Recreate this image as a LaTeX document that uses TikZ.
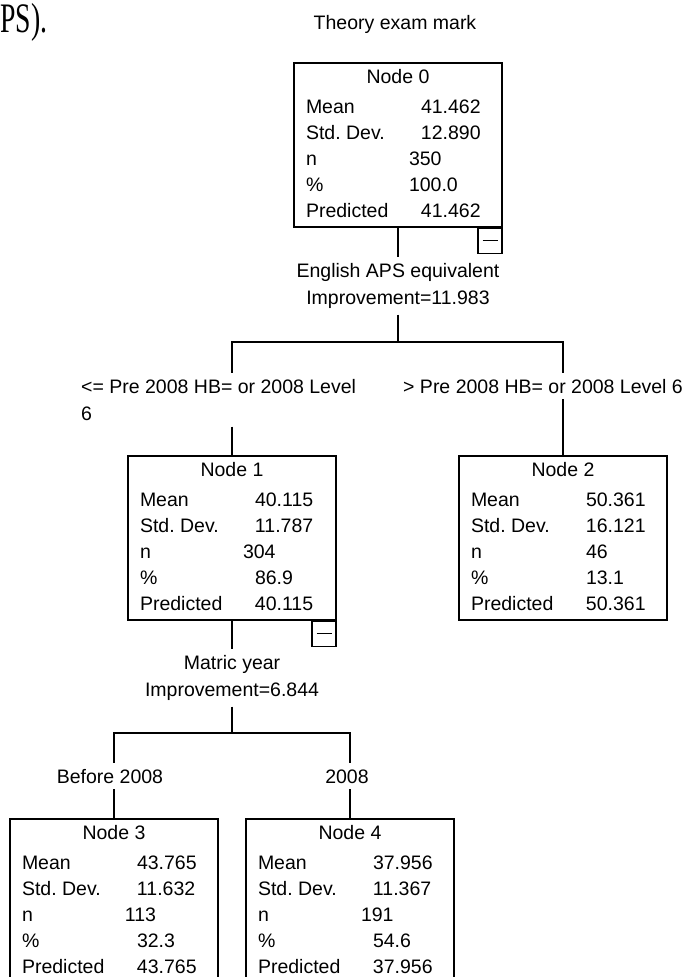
\documentclass[tikz,border=0pt]{standalone}
\usepackage{fontspec}
\setmainfont{Liberation Sans}
\newfontfamily\bodyserif{Liberation Serif}
\usepackage{array}
\usetikzlibrary{positioning,calc}
\frenchspacing

\newcommand{\statfont}{\fontsize{19.5}{26}\selectfont}
\newcommand{\val}[1]{\hspace*{12pt}#1}
\newcommand{\stattable}[6]{%
  \begin{tabular}{@{\hspace{12pt}}p{103pt}@{}p{93pt}@{}}
    \multicolumn{2}{c}{#1}\\[4pt]
    Mean & \val{#2}\\
    Std. Dev. & \val{#3}\\
    n & #4\\
    \% & #5\\
    Predicted & \val{#6}
  \end{tabular}}

\tikzset{
  treebox/.style={draw, line width=1.2pt, minimum width=208pt, minimum height=164pt, inner sep=0pt, font=\statfont},
  collapse/.style={draw, line width=1.2pt, minimum width=24pt, minimum height=25pt, inner sep=0pt, anchor=north east},
  cond/.style={inner xsep=0pt, inner ysep=6pt, font=\fontsize{19.5}{27}\selectfont},
  link/.style={line width=1.2pt},
}

\begin{document}
\begin{tikzpicture}[x=1pt, y=-1pt]
  \useasboundingbox (0,0) rectangle (699,977);

  % heading and the cut-off caption text
  \node[anchor=base west, inner sep=0pt, font=\bodyserif\fontsize{42}{42}\selectfont] (caption) at (0,32) {\scalebox{0.66}[1]{PS).}};
  \node[anchor=base, inner sep=0pt, font=\fontsize{19.5}{24}\selectfont] (title) at (395,29) {Theory exam mark};

  % root
  \node[treebox] (n0) at (398,145) {\stattable{Node 0}{41.462}{12.890}{350}{100.0}{41.462}};
  \node[collapse] (c0) at (n0.south east) {\rule{15pt}{1.4pt}};
  \node[cond, align=center, anchor=north] (s0) at (398,257) {English APS equivalent\\Improvement=11.983};
  \coordinate (j0) at (398,342);

  % first split
  \node[cond, align=left, anchor=north west] (b1) at (81,373) {<= Pre 2008 HB= or 2008 Level\\6};
  \node[cond, anchor=base west] (b2) at (403,393) {> Pre 2008 HB= or 2008 Level 6};
  \node[treebox] (n1) at (232,538) {\stattable{Node 1}{40.115}{11.787}{304}{\val{86.9}}{40.115}};
  \node[collapse] (c1) at (n1.south east) {\rule{15pt}{1.4pt}};
  \node[treebox] (n2) at (563,538) {\stattable{Node 2}{50.361}{16.121}{\val{46}}{\val{13.1}}{50.361}};
  \node[cond, align=center, anchor=north] (s1) at (232,649) {Matric year\\Improvement=6.844};
  \coordinate (j1) at (232,733);

  % second split
  \node[cond, anchor=base] (b3) at (110,783) {Before 2008};
  \node[cond, anchor=base] (b4) at (347,783) {2008};
  \node[treebox] (n3) at (114,901) {\stattable{Node 3}{43.765}{11.632}{113}{\val{32.3}}{43.765}};
  \node[treebox] (n4) at (350,901) {\stattable{Node 4}{37.956}{11.367}{191}{\val{54.6}}{37.956}};

  % connectors
  \draw[link] (n0.south) -- (s0.north);
  \draw[link] (s0.south) -- (j0);
  \draw[link] (j0) -| (n1.north |- b1.north);
  \draw[link] (j0) -| (n2.north |- b2.north);
  \draw[link] (n1.north |- b1.south) -- (n1.north);
  \draw[link] (n2.north |- b2.south) -- (n2.north);
  \draw[link] (n1.south) -- (s1.north);
  \draw[link] (s1.south) -- (j1);
  \draw[link] (j1) -| (n3.north |- b3.north);
  \draw[link] (j1) -| (n4.north |- b4.north);
  \draw[link] (n3.north |- b3.south) -- (n3.north);
  \draw[link] (n4.north |- b4.south) -- (n4.north);
\end{tikzpicture}
\end{document}
